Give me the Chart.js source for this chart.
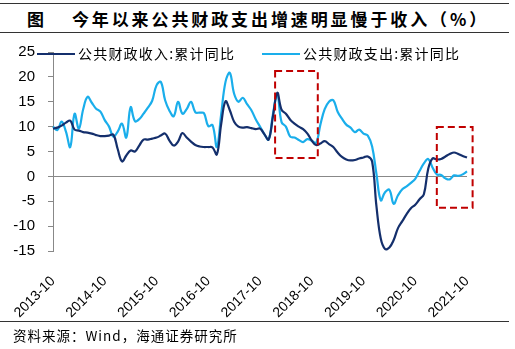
<!DOCTYPE html>
<html>
<head>
<meta charset="utf-8">
<script src="https://cdn.jsdelivr.net/npm/chart.js@4/dist/chart.umd.min.js"></script>
<style>
  html, body { margin: 0; padding: 0; background: #fff; }
  #wrap { position: relative; width: 515px; height: 349px; overflow: hidden; }
  #chart { position: absolute; left: 0; top: 0; }
  .rule { position: absolute; left: 0; width: 509px; height: 1px; background: #333; }
  #title { position: absolute; left: 27px; top: 6px; font: bold 17px "Noto Sans CJK SC", sans-serif; letter-spacing: 2.9px; white-space: nowrap; color: #000; }
  #title span { margin-right: 25px; }
  #source { position: absolute; left: 13px; top: 325px; font: 13.5px "Noto Sans CJK SC", sans-serif; letter-spacing: 1px; white-space: nowrap; color: #000; }
</style>
</head>
<body>
<div id="wrap">
  <div class="rule" style="top:3px"></div>
  <div id="title"><span>图</span>今年以来公共财政支出增速明显慢于收入（%）</div>
  <div class="rule" style="top:32px"></div>
  <canvas id="chart" width="515" height="349"></canvas>
  <div class="rule" style="top:321px"></div>
  <div id="source">资料来源：Wind，海通证券研究所</div>
</div>
<script>
// monthly, 2013-10 .. 2021-10
const startYear = 2013, startMonth = 10, monthCount = 97;
const tickLabels = ['2013-10', '2014-10', '2015-10', '2016-10', '2017-10', '2018-10', '2019-10', '2020-10', '2021-10'];
const seriesNames = ['公共财政收入:累计同比', '公共财政支出:累计同比'];

const revenue = [
  9.6, 9.8, 10.2, 10.8, 11.2, 9.4, 9.2, 8.9, 8.8, 8.6,
  8.3, 8.1, 8.1, 8.2, 8.4, 5.5, 3.0, 4.2, 5.2, 5.0,
  6.2, 7.4, 7.4, 7.6, 7.8, 8.2, 8.6, 7.2, 6.2, 7.0,
  8.7, 7.8, 7.0, 6.3, 6.0, 5.9, 5.9, 5.8, 4.4, 10.5,
  15.1, 13.3, 11.0, 10.0, 9.8, 9.9, 9.7, 9.5, 9.6, 8.5,
  7.4, 12.0, 16.8, 13.4, 12.6, 11.4, 10.6, 10.0, 9.5, 8.6,
  7.2, 6.3, 6.6, 7.1, 6.5, 5.9, 4.8, 3.9, 3.4, 3.2,
  3.3, 3.6, 3.8, 4.0, 3.0, -6.0, -12.5, -14.6, -14.3, -12.8,
  -10.4, -9.0, -7.6, -6.4, -5.7, -4.6, -3.6, 1.5, 3.6, 3.4,
  3.5, 4.0, 4.5, 4.8, 4.5, 4.1, 3.8
];
const spending = [
  10.0, 9.3, 11.0, 9.0, 5.9, 12.6, 9.6, 13.5, 16.0, 14.8,
  13.6, 13.0, 11.3, 10.0, 8.0, 9.0, 10.6, 7.8, 13.9, 11.1,
  11.5, 12.6, 13.8, 15.2, 18.3, 19.0, 15.3, 13.2, 12.1, 15.0,
  12.6, 13.5, 15.0, 12.9, 12.8, 12.7, 10.1, 10.3, 5.9, 12.5,
  19.0, 20.8, 16.6, 15.0, 15.8, 14.5, 13.3, 11.5, 10.0, 8.5,
  7.4, 12.5, 16.5, 10.9, 10.0, 8.0, 7.8, 7.3, 6.9, 7.5,
  7.2, 6.7, 10.4, 13.5, 15.0, 15.3, 13.0, 11.6, 10.4, 9.8,
  8.9, 9.4, 8.6, 8.2, 6.0, 0.5, -4.8, -3.2, -2.7, -5.5,
  -3.8, -2.6, -2.0, -1.3, -0.5, 1.1, 2.6, 3.5, 1.8, 0.4,
  0.3, -0.4, -0.6, 0.2, 0.1, 0.4, 1.0
];

// red dashed boxes, in data units (category index / percent)
const boxFrom = [51.5, 89.0];
const boxTo = [61.4, 97.3];
const boxTop = [21.2, 9.9];
const boxBottom = [3.7, -6.3];

const months = [];
for (let i = 0; i < monthCount; i++) {
  const m = startMonth - 1 + i;
  const y = startYear + Math.floor(m / 12);
  months.push(y + '-' + String(m % 12 + 1).padStart(2, '0'));
}

const colors = ['#142f6c', '#1aaeeb'];

const extras = {
  id: 'extras',
  afterDraw(chart) {
    const ctx = chart.ctx;
    const xs = chart.scales.x, ys = chart.scales.y;
    // dashed boxes
    ctx.save();
    ctx.strokeStyle = '#c00000';
    ctx.lineWidth = 2;
    ctx.setLineDash([7, 4]);
    for (let i = 0; i < boxFrom.length; i++) {
      const x1 = xs.getPixelForValue(boxFrom[i]);
      const x2 = xs.getPixelForValue(boxTo[i]);
      const y1 = ys.getPixelForValue(boxTop[i]);
      const y2 = ys.getPixelForValue(boxBottom[i]);
      ctx.strokeRect(x1, y1, x2 - x1, y2 - y1);
    }
    ctx.restore();
    // legend
    ctx.save();
    const legendX = [37, 262];
    const ly = 54;
    ctx.font = '14px "Noto Sans CJK SC", sans-serif';
    ctx.letterSpacing = '1.2px';
    ctx.textBaseline = 'middle';
    ctx.fillStyle = '#000';
    for (let i = 0; i < 2; i++) {
      ctx.strokeStyle = colors[i];
      ctx.lineWidth = 2;
      ctx.beginPath();
      ctx.moveTo(legendX[i], ly);
      ctx.lineTo(legendX[i] + 38, ly);
      ctx.stroke();
      ctx.fillText(seriesNames[i], legendX[i] + 41, ly);
    }
    ctx.restore();
  }
};

new Chart(document.getElementById('chart'), {
  type: 'line',
  data: {
    labels: months,
    datasets: [
      { label: seriesNames[0], data: revenue, borderColor: colors[0], borderWidth: 2.2, pointRadius: 0, tension: 0.4, fill: false },
      { label: seriesNames[1], data: spending, borderColor: colors[1], borderWidth: 2.2, pointRadius: 0, tension: 0.4, fill: false }
    ]
  },
  options: {
    responsive: false,
    animation: false,
    layout: { padding: { top: 52, right: 48, left: 0, bottom: 0 } },
    plugins: { legend: { display: false }, tooltip: { enabled: false } },
    scales: {
      x: {
        grid: { display: false },
        border: { display: false },
        afterFit(scale) { scale.height = 98; },
        ticks: {
          autoSkip: false,
          maxRotation: 45,
          minRotation: 45,
          padding: 14,
          color: '#000',
          font: { family: '"Liberation Sans", Arial, sans-serif', size: 14 },
          callback(value, index) {
            const l = months[index];
            return tickLabels.includes(l) ? l : null;
          }
        }
      },
      y: {
        min: -15,
        max: 25,
        afterFit(scale) { scale.width = 53; },
        border: { display: true, color: '#888', width: 1 },
        grid: {
          color: c => (c.tick && c.tick.value === 0 ? '#888' : 'transparent'),
          tickColor: '#888',
          tickLength: 5,
          lineWidth: 1
        },
        ticks: {
          stepSize: 5,
          padding: 13,
          color: '#000',
          font: { family: '"Liberation Sans", Arial, sans-serif', size: 15 }
        }
      }
    }
  },
  plugins: [extras]
});
</script>
</body>
</html>
